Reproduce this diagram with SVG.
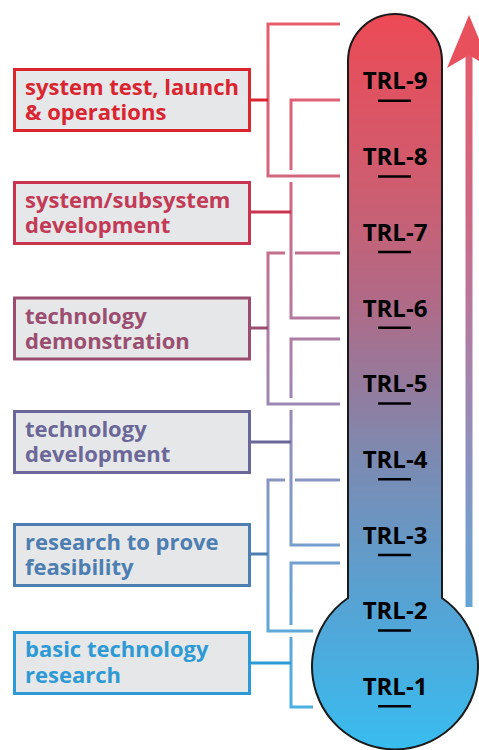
<svg xmlns="http://www.w3.org/2000/svg" width="479" height="750" viewBox="0 0 479 750">
<style>
.box{fill:#E6E7E8;stroke-width:3}
.lbl{font-family:"Open Sans","Noto Sans",sans-serif;font-weight:bold;font-size:22px}
.trl{font-family:"Open Sans","Noto Sans",sans-serif;font-weight:bold;font-size:24px;fill:#000;text-anchor:middle}
.bar{stroke:#000;stroke-width:2.5}
.br{fill:none;stroke:url(#lineGrad);stroke-width:3}
.cn{fill:none;stroke-width:3}
</style>
<defs>
<linearGradient id="thermoGrad" gradientUnits="userSpaceOnUse" x1="0" y1="14" x2="0" y2="749">
<stop offset="0" stop-color="#EC4A55"/>
<stop offset="0.25" stop-color="#CC5E72"/>
<stop offset="0.4" stop-color="#AE6B88"/>
<stop offset="0.6" stop-color="#7D89B0"/>
<stop offset="0.8" stop-color="#56A3D4"/>
<stop offset="1" stop-color="#38BCEF"/>
</linearGradient>
<linearGradient id="lineGrad" gradientUnits="userSpaceOnUse" x1="0" y1="0" x2="0" y2="750">
<stop offset="0" stop-color="#EA5A66"/>
<stop offset="0.3" stop-color="#CC6A86"/>
<stop offset="0.5" stop-color="#A484AE"/>
<stop offset="0.7" stop-color="#7A9CCA"/>
<stop offset="1" stop-color="#40B4E6"/>
</linearGradient>
</defs>

<g id="connectors">
<!-- B1 -->
<path class="br" d="M340,24 H268 V176 H340"/>
<path class="cn" stroke="#DA2530" d="M250,100 H268"/>
<!-- B2 -->
<path class="br" d="M340,100 H291 V170 M291,182 V318 H340"/>
<path class="cn" stroke="#C8344F" d="M250,212 H291"/>
<!-- B3 -->
<path class="br" d="M285,253 H268 V404 H340 M295,253 H340"/>
<path class="cn" stroke="#9B4D70" d="M250,328 H268"/>
<!-- B4 -->
<path class="br" d="M340,339 H291 V398 M291,410 V545 H340"/>
<path class="cn" stroke="#6B6899" d="M250,442 H291"/>
<!-- B5 -->
<path class="br" d="M285,480 H268 V631 H313 M295,480 H340"/>
<path class="cn" stroke="#4D7EB2" d="M250,554 H268"/>
<!-- B6 -->
<path class="br" d="M340,563 H291 V625 M291,637 V707 H313"/>
<path class="cn" stroke="#2E9AD5" d="M250,663 H291"/>
</g>

<g id="box1">
<rect class="box" stroke="#DA2530" x="14.5" y="69.5" width="235" height="61"/>
<text class="lbl" fill="#DA2530"><tspan x="25" y="95">system test, launch</tspan><tspan x="25" y="120">&amp; operations</tspan></text>
</g>
<g id="box2">
<rect class="box" stroke="#C8344F" x="14.5" y="182.5" width="235" height="61"/>
<text class="lbl" fill="#C23A56"><tspan x="25" y="208">system/subsystem</tspan><tspan x="25" y="233">development</tspan></text>
</g>
<g id="box3">
<rect class="box" stroke="#9B4D70" x="14.5" y="298" width="235" height="61"/>
<text class="lbl" fill="#9B4D70"><tspan x="25" y="324">technology</tspan><tspan x="25" y="349">demonstration</tspan></text>
</g>
<g id="box4">
<rect class="box" stroke="#6B6899" x="14.5" y="411.5" width="235" height="61"/>
<text class="lbl" fill="#6B6899"><tspan x="25" y="437">technology</tspan><tspan x="25" y="462">development</tspan></text>
</g>
<g id="box5">
<rect class="box" stroke="#4D7EB2" x="14.5" y="524.5" width="235" height="61"/>
<text class="lbl" fill="#4D7EB2"><tspan x="25" y="550">research to prove</tspan><tspan x="25" y="575">feasibility</tspan></text>
</g>
<g id="box6">
<rect class="box" stroke="#2E9AD5" x="14.5" y="632.5" width="235" height="61"/>
<text class="lbl" fill="#2E9AD5"><tspan x="25" y="657">basic technology</tspan><tspan x="25" y="683">research</tspan></text>
</g>

<g id="thermometer">
<path d="M348,598 V61 A47,47 0 0 1 442,61 V598 A83,83 0 1 1 348,598 Z" fill="url(#thermoGrad)" stroke="#1A1A1A" stroke-width="2"/>
</g>

<g id="trl9"><text class="trl" x="395" y="89">TRL-9</text><line class="bar" x1="378" y1="100.7" x2="411" y2="100.7"/></g>
<g id="trl8"><text class="trl" x="395" y="165">TRL-8</text><line class="bar" x1="378" y1="176.4" x2="411" y2="176.4"/></g>
<g id="trl7"><text class="trl" x="395" y="241">TRL-7</text><line class="bar" x1="378" y1="252.1" x2="411" y2="252.1"/></g>
<g id="trl6"><text class="trl" x="395" y="316.5">TRL-6</text><line class="bar" x1="378" y1="327.8" x2="411" y2="327.8"/></g>
<g id="trl5"><text class="trl" x="395" y="392">TRL-5</text><line class="bar" x1="378" y1="403.5" x2="411" y2="403.5"/></g>
<g id="trl4"><text class="trl" x="395" y="468">TRL-4</text><line class="bar" x1="378" y1="479.2" x2="411" y2="479.2"/></g>
<g id="trl3"><text class="trl" x="395" y="543.5">TRL-3</text><line class="bar" x1="378" y1="554.9" x2="411" y2="554.9"/></g>
<g id="trl2"><text class="trl" x="395" y="619">TRL-2</text><line class="bar" x1="378" y1="630.6" x2="411" y2="630.6"/></g>
<g id="trl1"><text class="trl" x="395" y="695">TRL-1</text><line class="bar" x1="378" y1="706.3" x2="411" y2="706.3"/></g>

<g id="arrow">
<line x1="469" y1="55" x2="469" y2="607" stroke="url(#lineGrad)" stroke-width="7"/>
<polygon points="469,15 447,68 469,55 491,68" fill="#E8505C"/>
</g>
</svg>
